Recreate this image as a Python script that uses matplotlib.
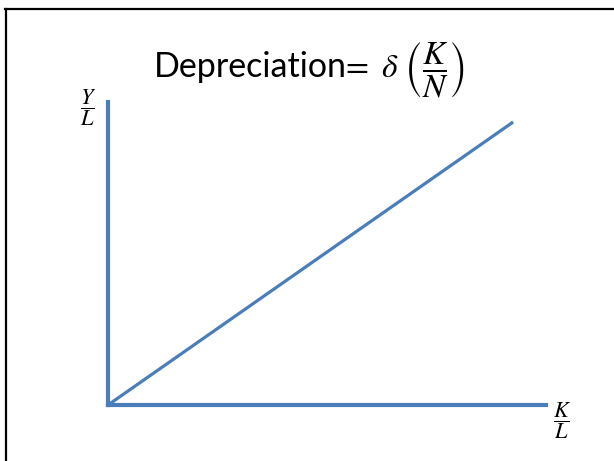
import matplotlib.pyplot as plt
from matplotlib.lines import Line2D

# capital per worker and depreciation (axes run 0..10)
k_per_l = [0, 9.25]
depreciation = [0, 9.34]
x_range = [0, 10]
y_range = [0, 10]

title_word = "Depreciation"
title_math = r"$=\ \delta\ \left(\dfrac{K}{N}\right)$"
y_label = r"$\dfrac{Y}{L}$"
x_label = r"$\dfrac{K}{L}$"

blue = "#4A7EBB"

plt.rcParams["mathtext.fontset"] = "stix"

W, H = 614, 461
fig = plt.figure(figsize=(W / 100, H / 100), dpi=100)

# axes placed in pixel terms of the reference
left, right, top, bottom = 108, 546, 102, 405
ax = fig.add_axes([left / W, 1 - bottom / H, (right - left) / W, (bottom - top) / H])
ax.set_xlim(x_range)
ax.set_ylim(y_range)
ax.plot(k_per_l, depreciation, color=blue, linewidth=2.3, solid_capstyle="butt")
for side in ["top", "right"]:
    ax.spines[side].set_visible(False)
for side in ["left", "bottom"]:
    ax.spines[side].set_color(blue)
    ax.spines[side].set_linewidth(3.0)
    ax.spines[side].set_capstyle("projecting")
ax.set_xticks([])
ax.set_yticks([])
ax.patch.set_visible(False)

# slide frame: top and left edges only
fig.add_artist(Line2D([5 / W, 1], [1 - 9 / H, 1 - 9 / H], color="black", linewidth=1.6))
fig.add_artist(Line2D([6 / W, 6 / W], [0, 1 - 9 / H], color="black", linewidth=1.6))

fig.text(154 / W, 1 - 77 / H, title_word, fontsize=24.5, family=["Lato", "DejaVu Sans"],
         ha="left", va="baseline")
fig.text(341 / W, 1 - 77 / H, title_math, fontsize=24, ha="left", va="baseline")
fig.text(88 / W, 1 - 108 / H, y_label, fontsize=16, ha="center", va="center")
fig.text(562 / W, 1 - 421 / H, x_label, fontsize=16, ha="center", va="center")

fig.savefig("out.png", dpi=100)
